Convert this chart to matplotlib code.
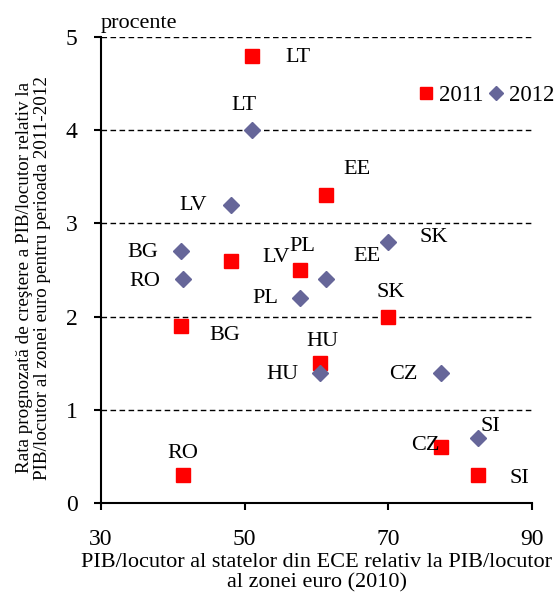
import matplotlib.pyplot as plt

plt.rcParams["font.family"] = ["Liberation Serif", "DejaVu Serif"]

tari = ["BG", "RO", "LV", "LT", "PL", "HU", "EE", "SK", "CZ", "SI"]
pib_relativ = [41.1, 41.4, 48.1, 51.0, 57.7, 60.5, 61.3, 69.9, 77.3, 82.5]
rata_2011 = [1.9, 0.3, 2.6, 4.8, 2.5, 1.5, 3.3, 2.0, 0.6, 0.3]
rata_2012 = [2.7, 2.4, 3.2, 4.0, 2.2, 1.4, 2.4, 2.8, 1.4, 0.7]

# decalaje etichete (pixeli)
dec_2011 = [(44, -10), (0, 22), (45, 3), (46, -2), (2, 24), (2, 22), (31, 26), (3, 24), (-15, 2), (41, -3)]
dec_2012 = [(-38, -1), (-38, -2), (-38, -1), (-8, 25), (-35, -1), (-38, -2), (41, 23), (46, 5), (-37, -2), (12, 11)]

fs = 16

fig = plt.figure(figsize=(5.55, 5.92), dpi=100)
ax = fig.add_axes([0.182, 0.1503, 0.7766, 0.7872])

ax.plot(pib_relativ, rata_2011, "s", color="#FF0000", ms=10.5, label="2011", zorder=3)
ax.plot(pib_relativ, rata_2012, "D", color="#666699", ms=8.5, label="2012", zorder=3)

for i, t in enumerate(tari):
    ax.annotate(t, (pib_relativ[i], rata_2011[i]), xytext=dec_2011[i], textcoords="offset pixels",
                ha="center", va="center", fontsize=fs)
    ax.annotate(t, (pib_relativ[i], rata_2012[i]), xytext=dec_2012[i], textcoords="offset pixels",
                ha="center", va="center", fontsize=fs)

ax.set_xlim(30, 90)
ax.set_ylim(0, 5)
ax.set_xticks([30, 50, 70, 90])
ax.set_yticks([0, 1, 2, 3, 4, 5])
for y in [1, 2, 3, 4, 5]:
    ax.axhline(y, color="black", lw=1, ls=(0, (4, 2.5)), zorder=1)

ax.spines["top"].set_visible(False)
ax.spines["right"].set_visible(False)
ax.spines["left"].set_linewidth(1.5)
ax.spines["bottom"].set_linewidth(1.5)
ax.tick_params(axis="both", direction="out", length=5, width=1.5, labelsize=17)
ax.tick_params(axis="x", pad=14)
ax.tick_params(axis="y", pad=12)

ax.set_xlabel("PIB/locutor al statelor din ECE relativ la PIB/locutor\nal zonei euro (2010)",
              fontsize=16, linespacing=1.1, labelpad=2)
ax.set_ylabel("Rata prognozată de creştere a PIB/locutor relativ la\n"
              "PIB/locutor al zonei euro pentru perioada 2011-2012",
              fontsize=13.8, linespacing=1.12)
ax.yaxis.set_label_coords(-0.115, 0.483)
ax.text(0.088, 1.008, "procente", transform=ax.transAxes, ha="center", va="bottom", fontsize=fs)

ax.legend(loc="center left", bbox_to_anchor=(0.715, 0.875), ncol=2, frameon=False, fontsize=16.5,
          markerscale=0.8, handlelength=0.7, handletextpad=0.2, columnspacing=0.2, borderaxespad=0)

fig.savefig("out.png", dpi=100)
